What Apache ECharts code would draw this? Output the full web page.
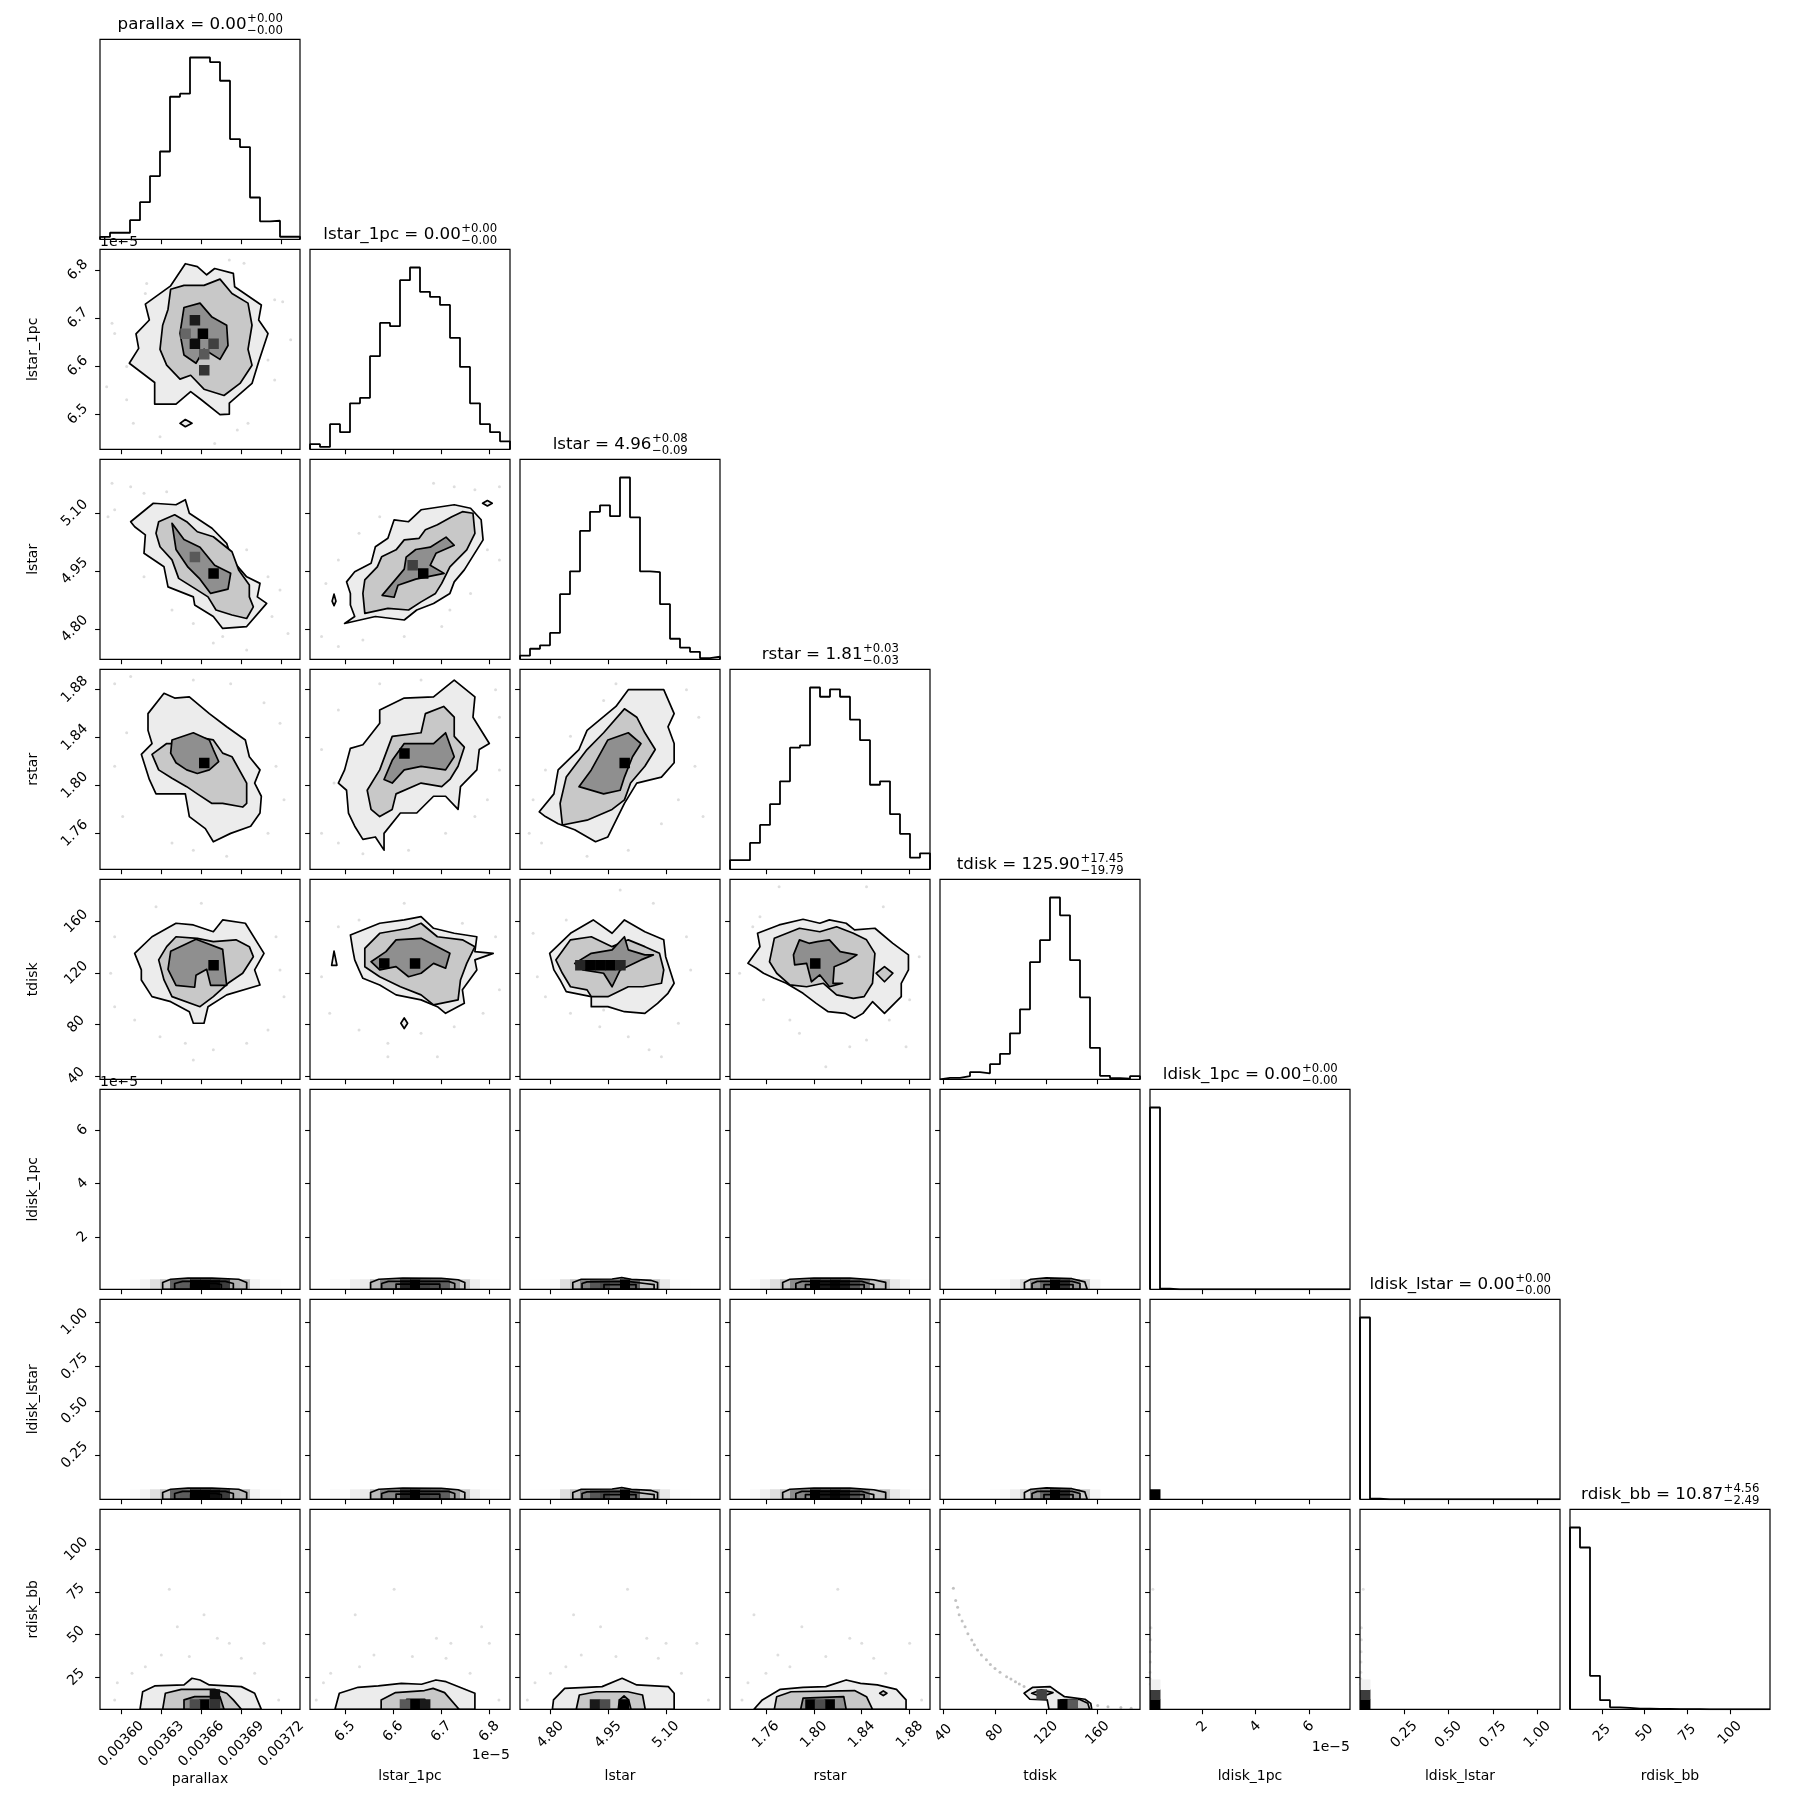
<!DOCTYPE html>
<html>
<head>
<meta charset="utf-8">
<script src="https://cdn.jsdelivr.net/npm/echarts@6/dist/echarts.min.js"></script>
<style>
html, body { margin: 0; padding: 0; background: #fff; }
#main { width: 1809px; height: 1809px; }
</style>
</head>
<body>
<div id="main"></div>
<script>
var FONT = 'DejaVu Sans';

// parameter names, in corner order
var names = ['parallax', 'lstar_1pc', 'lstar', 'rstar', 'tdisk', 'ldisk_1pc', 'ldisk_lstar', 'rdisk_bb'];

// axis ranges (lstar_1pc and ldisk_1pc are in units of 1e-5)
var rangeParallax = [0.003584, 0.003734];
var rangeLstar1pc = [6.427, 6.843];
var rangeLstar = [4.721, 5.240];
var rangeRstar = [1.730, 1.897];
var rangeTdisk = [37.3, 192.9];
var rangeLdisk1pc = [0.043, 7.54];
var rangeLdiskLstar = [0.002, 1.127];
var rangeRdiskBb = [6.2, 123.5];
var ranges = [rangeParallax, rangeLstar1pc, rangeLstar, rangeRstar, rangeTdisk, rangeLdisk1pc, rangeLdiskLstar, rangeRdiskBb];

// tick values
var ticksParallax = [0.00360, 0.00363, 0.00366, 0.00369, 0.00372];
var ticksLstar1pc = [6.5, 6.6, 6.7, 6.8];
var ticksLstar = [4.80, 4.95, 5.10];
var ticksRstar = [1.76, 1.80, 1.84, 1.88];
var ticksTdisk = [40, 80, 120, 160];
var ticksLdisk1pc = [2, 4, 6];
var ticksLdiskLstar = [0.25, 0.50, 0.75, 1.00];
var ticksRdiskBb = [25, 50, 75, 100];
var ticks = [ticksParallax, ticksLstar1pc, ticksLstar, ticksRstar, ticksTdisk, ticksLdisk1pc, ticksLdiskLstar, ticksRdiskBb];
var tickDigits = [5, 1, 2, 2, 0, 0, 2, 0];

// titles: median, +err, -err
var titleParallax = ['0.00', '+0.00', '\u22120.00'];
var titleLstar1pc = ['0.00', '+0.00', '\u22120.00'];
var titleLstar = ['4.96', '+0.08', '\u22120.09'];
var titleRstar = ['1.81', '+0.03', '\u22120.03'];
var titleTdisk = ['125.90', '+17.45', '\u221219.79'];
var titleLdisk1pc = ['0.00', '+0.00', '\u22120.00'];
var titleLdiskLstar = ['0.00', '+0.00', '\u22120.00'];
var titleRdiskBb = ['10.87', '+4.56', '\u22122.49'];
var titles = [titleParallax, titleLstar1pc, titleLstar, titleRstar, titleTdisk, titleLdisk1pc, titleLdiskLstar, titleRdiskBb];

// 1D histograms, 20 bins over each range (relative counts)
var histParallax = [1.3, 3.6, 3.6, 10.5, 20.4, 34.8, 48.3, 78.4, 80.1, 100, 100, 97.5, 87.2, 55.1, 50.7, 23.0, 9.9, 10.2, 1.4, 1.4];
var histLstar1pc = [2.8, 1.3, 13.8, 9.4, 25.3, 28.3, 51.2, 69.5, 67.7, 93, 100, 86.6, 83.8, 79.4, 61.3, 45.3, 25.3, 13.8, 9.4, 4.4];
var histLstar = [2, 5.8, 7.7, 14.5, 35.8, 48.4, 70.6, 81.1, 84.7, 78.7, 100, 78.1, 48.4, 47.9, 30.3, 11.3, 6.4, 4.1, 0.6, 1.4];
var histRstar = [5, 5, 14.5, 24.4, 35.8, 48.4, 66.9, 68.2, 100, 94.9, 99, 94.9, 82.3, 71, 46.5, 48.4, 30.3, 19.5, 6.4, 8.8];
var histTdisk = [0.8, 0.8, 1.7, 3.9, 3.3, 8.3, 14, 25.3, 38.5, 64.4, 76.5, 100, 90.2, 65.5, 45.1, 17.3, 1.9, 0.6, 0.3, 1.7];
var histLdisk1pc = [100, 0.3, 0, 0, 0, 0, 0, 0, 0, 0, 0, 0, 0, 0, 0, 0, 0, 0, 0, 0];
var histLdiskLstar = [100, 0.3, 0, 0, 0, 0, 0, 0, 0, 0, 0, 0, 0, 0, 0, 0, 0, 0, 0, 0];
var histRdiskBb = [100, 89, 18.4, 5, 1.1, 0.8, 0.4, 0.3, 0.2, 0.2, 0.1, 0.1, 0.1, 0, 0, 0, 0, 0, 0, 0];
var hists = [histParallax, histLstar1pc, histLstar, histRstar, histTdisk, histLdisk1pc, histLdiskLstar, histRdiskBb];

// contours: [level, points]  level 0 = outer, 1 = middle, 2 = inner
var contour_r1c0 = [
  [0, [[0.003648,6.813],[0.003637,6.767],[0.003618,6.729],[0.003621,6.696],[0.003611,6.667],[0.003613,6.637],[0.003606,6.606],[0.003625,6.566],[0.003625,6.521],[0.003641,6.521],[0.003652,6.547],[0.003660,6.530],[0.003674,6.499],[0.003681,6.500],[0.003681,6.523],[0.003698,6.564],[0.003703,6.609],[0.003710,6.668],[0.003703,6.696],[0.003705,6.727],[0.003685,6.765],[0.003684,6.793],[0.003670,6.803],[0.003664,6.790],[0.003657,6.807]]],
  [0, [[0.003644,6.481],[0.003648,6.489],[0.003653,6.481],[0.003648,6.474]]],
  [1, [[0.003637,6.760],[0.003647,6.768],[0.003662,6.768],[0.003674,6.781],[0.003683,6.751],[0.003695,6.731],[0.003698,6.685],[0.003695,6.635],[0.003698,6.602],[0.003689,6.564],[0.003677,6.539],[0.003662,6.552],[0.003652,6.581],[0.003644,6.573],[0.003634,6.602],[0.003629,6.635],[0.003631,6.685],[0.003635,6.718]]],
  [2, [[0.003647,6.722],[0.003659,6.731],[0.003668,6.702],[0.003679,6.685],[0.003680,6.643],[0.003674,6.614],[0.003662,6.635],[0.003656,6.606],[0.003647,6.623],[0.003644,6.668]]]
];
var contour_r2c0 = [
  [0, [[0.003607,5.078],[0.003624,5.126],[0.003641,5.122],[0.003648,5.135],[0.003651,5.100],[0.003668,5.061],[0.003679,5.022],[0.003683,4.979],[0.003694,4.935],[0.003704,4.918],[0.003702,4.883],[0.003709,4.866],[0.003694,4.806],[0.003676,4.801],[0.003669,4.832],[0.003655,4.862],[0.003654,4.883],[0.003635,4.909],[0.003632,4.961],[0.003617,4.996],[0.003618,5.044],[0.003610,5.065]]],
  [1, [[0.003628,5.078],[0.003640,5.096],[0.003649,5.078],[0.003657,5.052],[0.003669,5.039],[0.003683,5.000],[0.003688,4.953],[0.003696,4.914],[0.003696,4.883],[0.003699,4.857],[0.003694,4.827],[0.003683,4.836],[0.003671,4.849],[0.003665,4.883],[0.003655,4.905],[0.003643,4.931],[0.003638,4.979],[0.003629,5.013],[0.003626,5.048]]],
  [2, [[0.003638,5.074],[0.003647,5.032],[0.003659,5.012],[0.003670,4.965],[0.003682,4.944],[0.003680,4.903],[0.003667,4.892],[0.003659,4.929],[0.003650,4.960],[0.003641,5.006]]]
];
var contour_r2c1 = [
  [0, [[6.499,4.814],[6.563,4.832],[6.623,4.823],[6.649,4.849],[6.684,4.866],[6.718,4.892],[6.727,4.922],[6.748,4.953],[6.774,5.005],[6.787,5.031],[6.783,5.083],[6.761,5.113],[6.727,5.122],[6.658,5.109],[6.632,5.078],[6.602,5.083],[6.589,5.035],[6.563,5.013],[6.554,4.970],[6.520,4.948],[6.503,4.922],[6.511,4.892],[6.511,4.862],[6.520,4.832]]],
  [0, [[6.786,5.126],[6.796,5.133],[6.806,5.126],[6.796,5.119]]],
  [0, [[6.473,4.872],[6.477,4.890],[6.481,4.872],[6.477,4.860]]],
  [1, [[6.541,4.840],[6.589,4.853],[6.632,4.849],[6.658,4.870],[6.688,4.892],[6.701,4.918],[6.718,4.961],[6.753,5.005],[6.770,5.048],[6.766,5.100],[6.744,5.104],[6.722,5.091],[6.692,5.070],[6.667,5.057],[6.654,5.035],[6.623,5.031],[6.606,5.005],[6.576,4.987],[6.567,4.961],[6.541,4.927],[6.537,4.892]]],
  [2, [[6.577,4.887],[6.602,4.882],[6.610,4.913],[6.647,4.929],[6.706,4.944],[6.677,4.965],[6.689,4.996],[6.727,5.017],[6.710,5.038],[6.677,5.012],[6.647,5.006],[6.627,4.986],[6.623,4.955]]]
];
var contour_r3c0 = [
  [0, [[0.003620,1.860],[0.003632,1.877],[0.003640,1.873],[0.003651,1.874],[0.003666,1.860],[0.003679,1.849],[0.003693,1.838],[0.003696,1.824],[0.003704,1.813],[0.003700,1.802],[0.003705,1.791],[0.003704,1.777],[0.003697,1.766],[0.003682,1.760],[0.003669,1.753],[0.003663,1.764],[0.003651,1.774],[0.003648,1.793],[0.003626,1.793],[0.003621,1.805],[0.003615,1.826],[0.003623,1.835],[0.003620,1.846]]],
  [1, [[0.003623,1.826],[0.003634,1.835],[0.003641,1.835],[0.003654,1.841],[0.003669,1.838],[0.003676,1.827],[0.003683,1.824],[0.003694,1.802],[0.003694,1.785],[0.003691,1.782],[0.003676,1.785],[0.003668,1.785],[0.003657,1.793],[0.003649,1.799],[0.003638,1.806],[0.003628,1.813]]],
  [2, [[0.003638,1.838],[0.003654,1.844],[0.003666,1.838],[0.003669,1.830],[0.003673,1.820],[0.003666,1.813],[0.003657,1.810],[0.003649,1.813],[0.003641,1.819],[0.003637,1.827]]]
];
var contour_r3c1 = [
  [0, [[6.511,1.831],[6.537,1.834],[6.572,1.852],[6.572,1.863],[6.623,1.873],[6.684,1.874],[6.727,1.888],[6.770,1.874],[6.766,1.857],[6.800,1.835],[6.779,1.830],[6.774,1.813],[6.740,1.799],[6.735,1.780],[6.709,1.791],[6.684,1.791],[6.649,1.777],[6.615,1.777],[6.581,1.760],[6.581,1.746],[6.563,1.757],[6.537,1.755],[6.520,1.766],[6.507,1.777],[6.503,1.796],[6.486,1.802],[6.499,1.813]]],
  [1, [[6.546,1.796],[6.572,1.813],[6.598,1.841],[6.658,1.844],[6.667,1.860],[6.705,1.866],[6.727,1.857],[6.727,1.841],[6.748,1.832],[6.735,1.816],[6.718,1.805],[6.701,1.799],[6.658,1.802],[6.606,1.793],[6.598,1.780],[6.572,1.774],[6.554,1.780]]],
  [2, [[6.581,1.805],[6.598,1.821],[6.623,1.835],[6.684,1.835],[6.709,1.844],[6.727,1.824],[6.709,1.813],[6.658,1.816],[6.623,1.813],[6.598,1.802]]]
];
var contour_r3c2 = [
  [0, [[4.771,1.778],[4.809,1.793],[4.820,1.813],[4.874,1.830],[4.895,1.846],[4.970,1.866],[5.002,1.880],[5.094,1.880],[5.121,1.860],[5.105,1.849],[5.121,1.835],[5.121,1.819],[5.088,1.807],[5.024,1.802],[4.992,1.785],[4.949,1.757],[4.917,1.753],[4.863,1.763],[4.820,1.768],[4.787,1.774]]],
  [1, [[4.831,1.767],[4.825,1.785],[4.841,1.807],[4.895,1.830],[4.938,1.844],[4.992,1.864],[5.024,1.857],[5.045,1.844],[5.072,1.830],[5.045,1.816],[5.008,1.802],[4.992,1.788],[4.960,1.780],[4.895,1.771]]],
  [2, [[4.874,1.799],[4.906,1.813],[4.949,1.838],[5.002,1.844],[5.035,1.835],[5.013,1.824],[4.992,1.807],[4.981,1.796],[4.938,1.793]]]
];
var contour_r4c0 = [
  [0, [[0.003610,135.3],[0.003623,148.2],[0.003641,158.7],[0.003654,157.4],[0.003669,152.1],[0.003676,161.3],[0.003693,158.7],[0.003707,135.3],[0.003700,122.4],[0.003704,110.7],[0.003679,103.0],[0.003665,93.8],[0.003662,80.9],[0.003654,80.9],[0.003651,89.9],[0.003637,97.7],[0.003623,101.6],[0.003615,114.6],[0.003615,122.4]]],
  [1, [[0.003628,130.2],[0.003634,140.5],[0.003641,148.2],[0.003657,147.0],[0.003669,144.4],[0.003686,145.8],[0.003696,140.5],[0.003699,132.7],[0.003691,119.8],[0.003680,112.0],[0.003669,101.6],[0.003659,93.8],[0.003638,101.6],[0.003632,114.6]]],
  [2, [[0.003637,136.9],[0.003656,146.2],[0.003676,138.4],[0.003679,110.4],[0.003667,110.4],[0.003664,122.9],[0.003656,118.2],[0.003655,108.9],[0.003641,110.4],[0.003635,122.9]]]
];
var contour_r4c1 = [
  [0, [[6.511,149.6],[6.572,158.7],[6.623,161.3],[6.658,163.8],[6.684,154.8],[6.727,150.9],[6.774,148.2],[6.770,136.6],[6.808,135.3],[6.770,130.2],[6.774,122.4],[6.744,106.9],[6.748,96.4],[6.709,88.6],[6.692,93.8],[6.658,99.1],[6.606,103.0],[6.572,110.7],[6.537,115.9],[6.529,122.4],[6.520,130.2],[6.516,138.0]]],
  [0, [[6.616,80.9],[6.623,85.0],[6.630,80.9],[6.623,76.8]]],
  [0, [[6.472,126.0],[6.477,137.0],[6.483,126.0]]],
  [1, [[6.541,139.2],[6.572,150.9],[6.632,154.8],[6.658,158.7],[6.692,148.2],[6.744,145.8],[6.770,140.5],[6.753,127.5],[6.740,114.6],[6.735,99.1],[6.684,95.2],[6.658,103.0],[6.615,109.3],[6.572,117.1],[6.541,124.9]]],
  [2, [[6.554,128.8],[6.585,136.6],[6.606,145.8],[6.658,147.0],[6.718,135.3],[6.709,123.7],[6.684,127.5],[6.658,119.8],[6.632,117.1],[6.606,124.9],[6.572,122.4]]]
];
var contour_r4c2 = [
  [0, [[4.798,135.3],[4.852,150.9],[4.911,161.3],[4.960,150.9],[4.992,161.3],[5.045,152.1],[5.094,145.8],[5.099,132.7],[5.121,112.0],[5.105,104.2],[5.078,96.4],[5.045,88.6],[4.992,89.9],[4.949,93.8],[4.906,93.8],[4.906,101.6],[4.841,105.5],[4.825,114.6],[4.809,122.4]]],
  [1, [[4.814,130.2],[4.852,145.8],[4.906,148.2],[4.960,140.5],[5.002,145.8],[5.045,140.5],[5.083,135.3],[5.094,122.4],[5.088,112.0],[5.040,109.3],[5.002,109.3],[4.949,101.6],[4.906,101.6],[4.895,106.9],[4.852,109.3],[4.831,119.8]]],
  [2, [[4.863,127.5],[4.906,135.3],[4.960,138.0],[4.992,148.2],[5.002,138.0],[5.045,134.1],[5.067,134.1],[5.035,130.2],[4.981,122.4],[4.960,109.3],[4.938,119.8],[4.884,122.4]]]
];
var contour_r4c3 = [
  [0, [[1.745,127.5],[1.755,140.5],[1.753,150.9],[1.771,157.4],[1.791,161.8],[1.805,158.7],[1.813,161.3],[1.827,158.7],[1.834,153.5],[1.851,154.8],[1.866,143.1],[1.879,134.1],[1.879,122.4],[1.873,112.0],[1.873,101.6],[1.859,88.6],[1.849,97.7],[1.841,88.6],[1.834,84.8],[1.826,88.6],[1.812,89.9],[1.802,96.4],[1.791,104.2],[1.777,112.0],[1.767,115.9],[1.758,119.8],[1.752,123.7]]],
  [1, [[1.763,128.8],[1.767,147.0],[1.788,154.8],[1.805,152.1],[1.819,156.0],[1.833,150.9],[1.844,145.8],[1.851,135.3],[1.849,112.0],[1.842,101.6],[1.833,100.3],[1.819,103.0],[1.808,112.0],[1.794,109.3],[1.780,110.7],[1.769,119.8]]],
  [1, [[1.852,119.8],[1.859,124.9],[1.866,119.8],[1.859,113.2]]],
  [2, [[1.783,134.1],[1.788,145.8],[1.796,143.1],[1.803,144.4],[1.813,145.8],[1.822,136.6],[1.836,134.1],[1.827,128.8],[1.817,124.9],[1.816,112.0],[1.824,112.0],[1.813,109.3],[1.805,118.5],[1.798,113.2],[1.794,127.5],[1.784,126.3]]]
];

// ldisk_1pc rows (units 1e-5): flat contours at the bottom edge
var band_r5c0 = [
  [0, [[0.003631,0.043],[0.003631,0.30],[0.003637,0.42],[0.003650,0.46],[0.003668,0.46],[0.003688,0.42],[0.003694,0.30],[0.003694,0.043]]],
  [1, [[0.003640,0.043],[0.003640,0.26],[0.003646,0.34],[0.003678,0.34],[0.003684,0.26],[0.003684,0.043]]],
  [2, [[0.003652,0.043],[0.003652,0.22],[0.003656,0.26],[0.003671,0.26],[0.003675,0.22],[0.003675,0.043]]]
];
var band_r5c1 = [
  [0, [[6.553,0.043],[6.553,0.30],[6.570,0.42],[6.620,0.46],[6.700,0.45],[6.735,0.40],[6.749,0.30],[6.749,0.043]]],
  [1, [[6.576,0.043],[6.576,0.26],[6.590,0.34],[6.715,0.34],[6.728,0.26],[6.728,0.043]]],
  [2, [[6.606,0.043],[6.606,0.24],[6.697,0.24],[6.697,0.043]]]
];
var band_r5c2 = [
  [0, [[4.858,0.043],[4.858,0.30],[4.880,0.42],[4.960,0.43],[4.985,0.48],[5.010,0.42],[5.060,0.38],[5.078,0.30],[5.078,0.043]]],
  [1, [[4.882,0.043],[4.882,0.26],[4.895,0.32],[5.000,0.34],[5.045,0.26],[5.069,0.22],[5.069,0.043]]],
  [2, [[4.939,0.043],[4.939,0.22],[5.022,0.22],[5.022,0.043]]]
];
var band_r5c3 = [
  [0, [[1.774,0.043],[1.774,0.30],[1.780,0.42],[1.800,0.46],[1.830,0.46],[1.850,0.40],[1.860,0.30],[1.860,0.043]]],
  [1, [[1.785,0.043],[1.785,0.26],[1.790,0.34],[1.840,0.34],[1.846,0.26],[1.850,0.22],[1.850,0.043]]],
  [2, [[1.793,0.043],[1.793,0.22],[1.842,0.22],[1.842,0.043]]]
];
var band_r5c4 = [
  [0, [[103.0,0.043],[103.0,0.30],[108,0.42],[120,0.47],[140,0.44],[150,0.32],[151.8,0.043]]],
  [1, [[108.9,0.043],[108.9,0.26],[113,0.34],[140,0.34],[146.2,0.26],[146.2,0.043]]],
  [2, [[118.2,0.043],[118.2,0.22],[140.8,0.22],[140.8,0.043]]]
];
// ldisk_lstar rows
var band_r6c0 = [
  [0, [[0.003631,0.002],[0.003631,0.0406],[0.003637,0.0586],[0.003650,0.0646],[0.003668,0.0646],[0.003688,0.0586],[0.003694,0.0406],[0.003694,0.002]]],
  [1, [[0.003640,0.002],[0.003640,0.0346],[0.003646,0.0466],[0.003678,0.0466],[0.003684,0.0346],[0.003684,0.002]]],
  [2, [[0.003652,0.002],[0.003652,0.0286],[0.003656,0.0346],[0.003671,0.0346],[0.003675,0.0286],[0.003675,0.002]]]
];
var band_r6c1 = [
  [0, [[6.553,0.002],[6.553,0.0406],[6.570,0.0586],[6.620,0.0646],[6.700,0.063],[6.735,0.0556],[6.749,0.0406],[6.749,0.002]]],
  [1, [[6.576,0.002],[6.576,0.0346],[6.590,0.0466],[6.715,0.0466],[6.728,0.0346],[6.728,0.002]]],
  [2, [[6.606,0.002],[6.606,0.0316],[6.697,0.0316],[6.697,0.002]]]
];
var band_r6c2 = [
  [0, [[4.858,0.002],[4.858,0.0406],[4.880,0.0586],[4.960,0.060],[4.985,0.0676],[5.010,0.0586],[5.060,0.0526],[5.078,0.0406],[5.078,0.002]]],
  [1, [[4.882,0.002],[4.882,0.0346],[4.895,0.0436],[5.000,0.0466],[5.045,0.0346],[5.069,0.0286],[5.069,0.002]]],
  [2, [[4.939,0.002],[4.939,0.0286],[5.022,0.0286],[5.022,0.002]]]
];
var band_r6c3 = [
  [0, [[1.774,0.002],[1.774,0.0406],[1.780,0.0586],[1.800,0.0646],[1.830,0.0646],[1.850,0.0556],[1.860,0.0406],[1.860,0.002]]],
  [1, [[1.785,0.002],[1.785,0.0346],[1.790,0.0466],[1.840,0.0466],[1.846,0.0346],[1.850,0.0286],[1.850,0.002]]],
  [2, [[1.793,0.002],[1.793,0.0286],[1.842,0.0286],[1.842,0.002]]]
];
var band_r6c4 = [
  [0, [[103.0,0.002],[103.0,0.0406],[108,0.0586],[120,0.066],[140,0.0616],[150,0.0436],[151.8,0.002]]],
  [1, [[108.9,0.002],[108.9,0.0346],[113,0.0466],[140,0.0466],[146.2,0.0346],[146.2,0.002]]],
  [2, [[118.2,0.002],[118.2,0.0286],[140.8,0.0286],[140.8,0.002]]]
];
// rdisk_bb row
var contour_r7c0 = [
  [0, [[0.003614,6.2],[0.003616,16.5],[0.003625,19.9],[0.003647,20.5],[0.003653,24.4],[0.003659,23.4],[0.003666,20.5],[0.003690,19.5],[0.003700,15.6],[0.003705,6.2]]],
  [1, [[0.003631,6.2],[0.003633,15.6],[0.003645,17.9],[0.003670,17.9],[0.003679,15.6],[0.003684,11.7],[0.003690,6.2]]],
  [2, [[0.003647,6.2],[0.003647,11.7],[0.003655,13.6],[0.003674,13.6],[0.003677,6.2]]]
];
var contour_r7c1 = [
  [0, [[6.479,6.2],[6.488,15.6],[6.527,19.1],[6.569,19.9],[6.617,21.4],[6.659,20.9],[6.689,23.4],[6.710,22.4],[6.770,15.6],[6.770,6.2]]],
  [1, [[6.575,6.2],[6.575,11.7],[6.605,16.0],[6.665,17.2],[6.683,18.5],[6.707,16.0],[6.737,6.2]]],
  [2, [[6.623,6.2],[6.628,12.0],[6.666,12.0],[6.670,6.2]]]
];
var contour_r7c2 = [
  [0, [[4.805,6.2],[4.808,11.7],[4.837,18.5],[4.934,19.5],[4.986,24.4],[5.024,20.5],[5.106,19.5],[5.121,15.6],[5.121,6.2]]],
  [1, [[4.867,6.2],[4.875,14.6],[4.919,16.5],[5.001,16.5],[5.039,14.6],[5.046,6.2]]],
  [2, [[4.976,6.2],[4.979,11.7],[4.991,14.0],[5.003,11.7],[5.009,6.2]]]
];
var contour_r7c3 = [
  [0, [[1.750,6.2],[1.757,11.7],[1.772,17.9],[1.791,19.1],[1.810,19.5],[1.827,23.4],[1.839,21.4],[1.853,20.5],[1.869,17.9],[1.877,11.7],[1.877,6.2]]],
  [1, [[1.767,6.2],[1.769,13.6],[1.781,16.5],[1.834,17.2],[1.844,13.6],[1.849,6.2]]],
  [2, [[1.789,6.2],[1.791,12.7],[1.825,13.6],[1.827,6.2]]],
  [1, [[1.855,15.6],[1.858,17.0],[1.861,15.6],[1.858,14.2]]]
];
var contour_r7c4 = [
  [0, [[102.7,15.6],[109.5,19.1],[123.0,19.5],[128.5,16.5],[134.2,13.6],[150.1,12.1],[154.6,9.7],[155.4,6.2],[122.1,6.2],[120.7,11.7],[107.2,12.1]]],
  [1, [[108.6,15.6],[116.2,17.6],[125.2,16.0],[116.2,13.6]]],
  [1, [[129.7,6.2],[131.1,11.7],[145.6,12.1],[152.3,9.7],[153.7,6.2]]]
];

// dark 2D-histogram cells: [x, y, lightness]
var cells_r1c0 = [[0.003655,6.696,0.1],[0.003661,6.668,0],[0.003655,6.647,0.05],[0.003669,6.647,0.25],[0.003662,6.592,0.2],[0.003662,6.625,0.35],[0.003648,6.668,0.4]];
var cells_r2c0 = [[0.003669,4.944,0],[0.003655,4.987,0.35]];
var cells_r2c1 = [[6.662,4.944,0],[6.640,4.966,0.25]];
var cells_r3c0 = [[0.003662,1.819,0]];
var cells_r3c1 = [[6.623,1.827,0]];
var cells_r3c2 = [[4.992,1.819,0]];
var cells_r4c0 = [[0.003669,126.3,0]];
var cells_r4c1 = [[6.581,127.5,0],[6.645,127.5,0]];
var cells_r4c2 = [[4.877,126.3,0.15],[4.903,126.3,0],[4.929,126.3,0],[4.955,126.3,0],[4.981,126.3,0.15]];
var cells_r4c3 = [[1.801,127.5,0]];
var cells_r6c5 = [[0.23,0.030,0]];
var cells_r7c0 = [[0.003662,9.1,0],[0.003670,15.0,0.05],[0.003655,9.1,0.3],[0.003670,9.1,0.2]];
var cells_r7c1 = [[6.645,9.1,0],[6.666,9.1,0.1],[6.624,9.1,0.35]];
var cells_r7c2 = [[4.915,9.1,0.1],[4.990,9.1,0],[4.941,9.1,0.3]];
var cells_r7c3 = [[1.797,9.1,0],[1.813,9.1,0],[1.805,9.1,0.3]];
var cells_r7c4 = [[132.6,9.1,0],[140.4,9.1,0.35],[116.2,15.0,0.25]];
var cells_r7c5 = [[0.23,9.1,0],[0.23,15.0,0.24],[0.23,20.8,0.94]];
var cells_r7c6 = [[0.030,9.1,0],[0.030,15.0,0.24],[0.030,20.8,0.94]];

// faint outlying samples outside the contours: [x, y]
var scat_r1c0 = [[0.003593,6.689],[0.003595,6.668],[0.003604,6.599],[0.003589,6.557],[0.003609,6.481],[0.003619,6.772],[0.003618,6.751],[0.003692,6.814],[0.003715,6.738],[0.003721,6.734],[0.003710,6.613],[0.003715,6.571],[0.003727,6.655],[0.003687,6.467],[0.003670,6.439],[0.003629,6.453],[0.003695,6.481],[0.003604,6.530],[0.003681,6.821]];
var scat_r2c0 = [[0.003593,5.178],[0.003607,5.169],[0.003617,5.152],[0.003634,5.156],[0.003595,5.109],[0.003590,5.091],[0.003694,5.005],[0.003710,4.935],[0.003719,4.901],[0.003713,4.832],[0.003725,4.788],[0.003669,4.763],[0.003694,4.745],[0.003676,4.780],[0.003654,4.814],[0.003638,4.849],[0.003617,4.935]];
var scat_r2c1 = [[6.684,5.178],[6.727,5.169],[6.770,5.161],[6.821,5.169],[6.796,5.005],[6.821,4.979],[6.761,4.892],[6.718,4.849],[6.701,4.806],[6.623,4.780],[6.537,4.771],[6.486,4.754],[6.451,4.780],[6.460,4.918],[6.486,4.979],[6.529,5.048],[6.572,5.091]];
var scat_r3c0 = [[0.003595,1.885],[0.003607,1.891],[0.003654,1.888],[0.003682,1.885],[0.003707,1.869],[0.003719,1.852],[0.003716,1.816],[0.003722,1.788],[0.003710,1.760],[0.003654,1.746],[0.003638,1.752],[0.003601,1.774],[0.003595,1.816],[0.003604,1.844],[0.003679,1.741]];
var scat_r3c1 = [[6.477,1.802],[6.451,1.830],[6.486,1.863],[6.572,1.885],[6.658,1.888],[6.813,1.880],[6.821,1.857],[6.821,1.813],[6.796,1.788],[6.770,1.774],[6.709,1.760],[6.632,1.746],[6.537,1.743],[6.486,1.752],[6.451,1.760]];
var scat_r3c2 = [[4.777,1.752],[4.745,1.760],[4.755,1.788],[4.787,1.813],[4.852,1.841],[4.938,1.871],[4.970,1.885],[5.153,1.880],[5.185,1.857],[5.175,1.816],[5.132,1.788],[5.088,1.768],[5.002,1.746],[4.895,1.741],[5.196,1.774]];
var scat_r4c0 = [[0.003595,148.3],[0.003592,119.8],[0.003595,93.8],[0.003610,83.5],[0.003629,70.5],[0.003648,65.3],[0.003669,60.2],[0.003694,65.3],[0.003710,75.7],[0.003722,101.6],[0.003719,122.4],[0.003716,148.3],[0.003660,174.2],[0.003626,171.6],[0.003654,52.4]];
var scat_r4c1 = [[6.451,117.1],[6.468,88.6],[6.529,75.7],[6.589,65.3],[6.658,73.1],[6.727,78.2],[6.787,88.6],[6.821,106.9],[6.813,148.3],[6.744,158.7],[6.623,174.2],[6.529,161.3],[6.486,156.0],[6.589,54.9],[6.692,54.9]];
var scat_r4c2 = [[4.755,150.9],[4.766,117.1],[4.787,101.6],[4.852,88.6],[4.928,78.2],[5.002,70.4],[5.056,60.2],[5.132,80.9],[5.164,122.4],[5.153,148.3],[5.067,174.2],[4.981,184.6],[4.841,161.3],[4.938,91.3],[5.088,54.9]];
var scat_r4c3 = [[1.755,163.8],[1.749,156.0],[1.738,119.8],[1.758,99.1],[1.780,83.5],[1.788,73.1],[1.810,47.1],[1.830,62.7],[1.844,67.9],[1.863,83.5],[1.880,99.1],[1.888,132.7],[1.858,171.6],[1.844,187.1],[1.771,187.1],[1.877,62.7]];

// scattered samples in the rdisk_bb row
var outRdisk = [76.6, 61.6, 54.6, 38.1, 47.8, 44.9, 44.9, 27.3, 21.8, 31.2, 37.1, 36.1, 27.3, 11.7, 11.7];
var outParallax = [0.003636, 0.003662, 0.003642, 0.003630, 0.003672, 0.003681, 0.003707, 0.003608, 0.003597, 0.003618, 0.003651, 0.003690, 0.003700, 0.003718, 0.003595];
var outLstar1pc = [6.602, 6.521, 6.784, 6.560, 6.690, 6.720, 6.800, 6.470, 6.455, 6.530, 6.640, 6.710, 6.760, 6.820, 6.440];
var outLstar = [5.00, 4.86, 4.93, 4.88, 5.05, 5.10, 5.18, 4.80, 4.76, 4.84, 4.97, 5.08, 5.14, 5.21, 4.74];
var outRstar = [1.820, 1.750, 1.790, 1.770, 1.830, 1.840, 1.880, 1.760, 1.745, 1.780, 1.810, 1.850, 1.860, 1.890, 1.740];
// tdisk vs rdisk_bb streak
var streakTdisk = [47.7, 49.5, 51, 52.2, 54.5, 56.8, 59, 62, 64, 66.5, 69.5, 73.4, 76.5, 80.1, 84, 89.1, 92.5, 96, 99, 102.7, 108, 114, 120, 126, 132, 140, 150, 160, 168, 178, 186];
var streakRdisk = [77.2, 70, 66, 61.6, 58, 54.6, 50.5, 46.9, 44, 41, 38, 35.2, 32.5, 30.2, 28, 25.3, 24, 22.4, 21, 19.5, 18, 16.5, 15, 13.5, 11.7, 10.5, 9.4, 8.5, 7.7, 7.2, 6.8];
var edgeRdisk = [76.6, 54, 47, 40, 34, 28, 24, 21];
var edgeLdisk1pc = [0.15, 0.08, 0.07, 0.06, 0.06, 0.05, 0.05, 0.05];
var edgeLdiskLstar = [0.020, 0.010, 0.010, 0.009, 0.008, 0.007, 0.007, 0.006];

// ---------------- layout ----------------
var LEFT = 100, TOP = 39.3, SIZE = 200, STEP = 210;
var fills = ['#ececec', '#c8c8c8', '#8f8f8f'];
var grids = [], xAxes = [], yAxes = [], series = [], graphics = [];

var cv = document.createElement('canvas').getContext('2d');
function textWidth(s, px) {
    cv.font = px + 'px "' + FONT + '"';
    return cv.measureText(s).width;
}
function fmt(v, d) { return v.toFixed(d); }
function labelMargin(k) {
    var w = 0;
    ticks[k].forEach(function (v) { w = Math.max(w, textWidth(fmt(v, tickDigits[k]), 14)); });
    return 9.7 + 0.3536 * (w + 13);
}
function gi(r, c) { return r * (r + 1) / 2 + c; }

for (var r = 0; r < 8; r++) {
    for (var c = 0; c <= r; c++) {
        var g = gi(r, c);
        grids.push({
            left: LEFT + STEP * c, top: TOP + STEP * r, width: SIZE, height: SIZE,
            show: true, borderColor: '#000', borderWidth: 1.2, backgroundColor: 'rgba(0,0,0,0)', z: 10
        });
        (function (r, c, g) {
            xAxes.push({
                gridIndex: g, type: 'value', min: ranges[c][0], max: ranges[c][1],
                axisLine: { show: false }, splitLine: { show: false },
                axisTick: { show: true, inside: false, length: 4.9, customValues: ticks[c], lineStyle: { color: '#000', width: 1.1 } },
                axisLabel: {
                    show: r === 7, customValues: ticks[c], rotate: 45, align: 'center', verticalAlign: 'middle',
                    margin: labelMargin(c), fontFamily: FONT, fontSize: 14, color: '#000',
                    formatter: function (v) { return fmt(v, tickDigits[c]); }
                },
                name: r === 7 ? names[c] : '', nameLocation: 'middle', nameGap: 60,
                nameTextStyle: { fontFamily: FONT, fontSize: 14, color: '#000', verticalAlign: 'top' }
            });
            if (r === c) {
                yAxes.push({ gridIndex: g, type: 'value', min: 0, max: 1.1 * Math.max.apply(null, hists[c]), show: false });
            } else {
                yAxes.push({
                    gridIndex: g, type: 'value', min: ranges[r][0], max: ranges[r][1],
                    axisLine: { show: false }, splitLine: { show: false },
                    axisTick: { show: true, inside: false, length: 4.9, customValues: ticks[r], lineStyle: { color: '#000', width: 1.1 } },
                    axisLabel: {
                        show: c === 0, customValues: ticks[r], rotate: 45, align: 'center', verticalAlign: 'middle',
                        margin: labelMargin(r), fontFamily: FONT, fontSize: 14, color: '#000',
                        formatter: function (v) { return fmt(v, tickDigits[r]); }
                    },
                    name: c === 0 ? names[r] : '', nameLocation: 'middle', nameGap: 60, nameRotate: 90,
                    nameTextStyle: { fontFamily: FONT, fontSize: 14, color: '#000' }
                });
            }
        })(r, c, g);
    }
}

// diagonal step histograms
hists.forEach(function (h, k) {
    var lo = ranges[k][0], bw = (ranges[k][1] - lo) / h.length;
    var pts = [[lo, 0]];
    h.forEach(function (v, i) { pts.push([lo + i * bw, v]); pts.push([lo + (i + 1) * bw, v]); });
    pts.push([ranges[k][1], 0]);
    series.push({
        type: 'line', xAxisIndex: gi(k, k), yAxisIndex: gi(k, k), data: pts, symbol: 'none',
        lineStyle: { color: '#000', width: 1.8 }, silent: true, z: 3, clip: true
    });
});

function addContours(r, c, polys, filled, z) {
    var g = gi(r, c);
    series.push({
        type: 'custom', xAxisIndex: g, yAxisIndex: g, clip: true, silent: true, z: z,
        data: polys.map(function (p) { return p[1][0]; }),
        renderItem: function (params, api) {
            var p = polys[params.dataIndex];
            return {
                type: 'polygon',
                shape: { points: p[1].map(function (v) { return api.coord(v); }) },
                style: { fill: filled ? fills[p[0]] : 'none', stroke: '#000', lineWidth: 1.7, lineJoin: 'round' }
            };
        }
    });
}
function addCells(r, c, cells, z) {
    var g = gi(r, c);
    var bx = (ranges[c][1] - ranges[c][0]) / 20, by = (ranges[r][1] - ranges[r][0]) / 20;
    series.push({
        type: 'custom', xAxisIndex: g, yAxisIndex: g, clip: true, silent: true, z: z, data: cells,
        renderItem: function (params, api) {
            var p = api.coord([api.value(0), api.value(1)]);
            var s = api.size([bx, by]);
            var v = Math.round(255 * api.value(2));
            return {
                type: 'rect',
                shape: { x: p[0] - s[0] / 2, y: p[1] - s[1] / 2, width: s[0] + 0.5, height: s[1] + 0.5 },
                style: { fill: 'rgb(' + v + ',' + v + ',' + v + ')' }
            };
        }
    });
}
function addPoints(r, c, pairs, alpha) {
    var g = gi(r, c);
    series.push({
        type: 'scatter', xAxisIndex: g, yAxisIndex: g, silent: true, z: 1, symbolSize: 3,
        data: pairs, itemStyle: { color: 'rgba(0,0,0,' + alpha + ')' }
    });
}
function zip(xs, ys) { return xs.map(function (x, i) { return [x, ys[i]]; }); }

// core panels
var core = [
    [1, 0, contour_r1c0, cells_r1c0, scat_r1c0],
    [2, 0, contour_r2c0, cells_r2c0, scat_r2c0],
    [2, 1, contour_r2c1, cells_r2c1, scat_r2c1],
    [3, 0, contour_r3c0, cells_r3c0, scat_r3c0],
    [3, 1, contour_r3c1, cells_r3c1, scat_r3c1],
    [3, 2, contour_r3c2, cells_r3c2, scat_r3c2],
    [4, 0, contour_r4c0, cells_r4c0, scat_r4c0],
    [4, 1, contour_r4c1, cells_r4c1, scat_r4c1],
    [4, 2, contour_r4c2, cells_r4c2, scat_r4c2],
    [4, 3, contour_r4c3, cells_r4c3, scat_r4c3]
];
core.forEach(function (p) {
    addPoints(p[0], p[1], p[4], 0.16);
    addContours(p[0], p[1], p[2], true, 3);
    addCells(p[0], p[1], p[3], 4);
});

// ldisk rows: the density band is the column's own histogram (all samples in the first ldisk bin)
var bands5 = [band_r5c0, band_r5c1, band_r5c2, band_r5c3, band_r5c4];
var bands6 = [band_r6c0, band_r6c1, band_r6c2, band_r6c3, band_r6c4];
[5, 6].forEach(function (r) {
    for (var c = 0; c < 5; c++) {
        var h = hists[c], mx = Math.max.apply(null, h);
        var lo = ranges[c][0], bw = (ranges[c][1] - lo) / 20;
        var yc = ranges[r][0] + (ranges[r][1] - ranges[r][0]) / 40;
        var cells = [];
        h.forEach(function (v, i) {
            var t = v / mx;
            if (t > 0.05) cells.push([lo + (i + 0.5) * bw, yc, 1 - t * t]);
        });
        addCells(r, c, cells, 2);
        addContours(r, c, r === 5 ? bands5[c] : bands6[c], false, 5);
    }
});
addCells(6, 5, cells_r6c5, 4);

// rdisk_bb row
addPoints(7, 0, zip(outParallax, outRdisk), 0.16);
addPoints(7, 1, zip(outLstar1pc, outRdisk), 0.16);
addPoints(7, 2, zip(outLstar, outRdisk), 0.16);
addPoints(7, 3, zip(outRstar, outRdisk), 0.16);
addPoints(7, 4, zip(streakTdisk, streakRdisk), 0.3);
addPoints(7, 5, zip(edgeLdisk1pc, edgeRdisk), 0.15);
addPoints(7, 6, zip(edgeLdiskLstar, edgeRdisk), 0.15);
addContours(7, 0, contour_r7c0, true, 3); addCells(7, 0, cells_r7c0, 4);
addContours(7, 1, contour_r7c1, true, 3); addCells(7, 1, cells_r7c1, 4);
addContours(7, 2, contour_r7c2, true, 3); addCells(7, 2, cells_r7c2, 4);
addContours(7, 3, contour_r7c3, true, 3); addCells(7, 3, cells_r7c3, 4);
addContours(7, 4, contour_r7c4, true, 3); addCells(7, 4, cells_r7c4, 4);
addCells(7, 5, cells_r7c5, 4);
addCells(7, 6, cells_r7c6, 4);

// titles above the diagonal (12pt title, smaller scripts)
var TITLE_PX = 16.7, SCRIPT_PX = 11.7;
names.forEach(function (n, k) {
    var cx = LEFT + STEP * k + SIZE / 2, top = TOP + STEP * k;
    var main = n + ' = ' + titles[k][0];
    var wm = textWidth(main, TITLE_PX);
    var ws = Math.max(textWidth(titles[k][1], SCRIPT_PX), textWidth(titles[k][2], SCRIPT_PX));
    var x0 = cx - (wm + ws) / 2;
    graphics.push({ type: 'text', x: x0, y: top - 14.5, silent: true,
        style: { text: main, fontSize: TITLE_PX, fontFamily: FONT, fill: '#000', align: 'left', verticalAlign: 'middle' } });
    graphics.push({ type: 'text', x: x0 + wm + 0.5, y: top - 20, silent: true,
        style: { text: titles[k][1], fontSize: SCRIPT_PX, fontFamily: FONT, fill: '#000', align: 'left', verticalAlign: 'middle' } });
    graphics.push({ type: 'text', x: x0 + wm + 0.5, y: top - 8.5, silent: true,
        style: { text: titles[k][2], fontSize: SCRIPT_PX, fontFamily: FONT, fill: '#000', align: 'left', verticalAlign: 'middle' } });
});

// offset texts for the 1e-5 scaled axes
var offTxt = '1e\u22125';
graphics.push({ type: 'text', x: LEFT, y: TOP + STEP * 1 - 7, silent: true,
    style: { text: offTxt, fontSize: 14, fontFamily: FONT, fill: '#000', align: 'left', verticalAlign: 'middle' } });
graphics.push({ type: 'text', x: LEFT, y: TOP + STEP * 5 - 7, silent: true,
    style: { text: offTxt, fontSize: 14, fontFamily: FONT, fill: '#000', align: 'left', verticalAlign: 'middle' } });
graphics.push({ type: 'text', x: LEFT + STEP * 1 + SIZE, y: TOP + STEP * 7 + SIZE + 46, silent: true,
    style: { text: offTxt, fontSize: 14, fontFamily: FONT, fill: '#000', align: 'right', verticalAlign: 'middle' } });
graphics.push({ type: 'text', x: LEFT + STEP * 5 + SIZE, y: TOP + STEP * 7 + SIZE + 38, silent: true,
    style: { text: offTxt, fontSize: 14, fontFamily: FONT, fill: '#000', align: 'right', verticalAlign: 'middle' } });

var myChart = echarts.init(document.getElementById('main'));
myChart.setOption({
    animation: false,
    backgroundColor: '#fff',
    grid: grids,
    xAxis: xAxes,
    yAxis: yAxes,
    series: series,
    graphic: { elements: graphics }
});
</script>
</body>
</html>
